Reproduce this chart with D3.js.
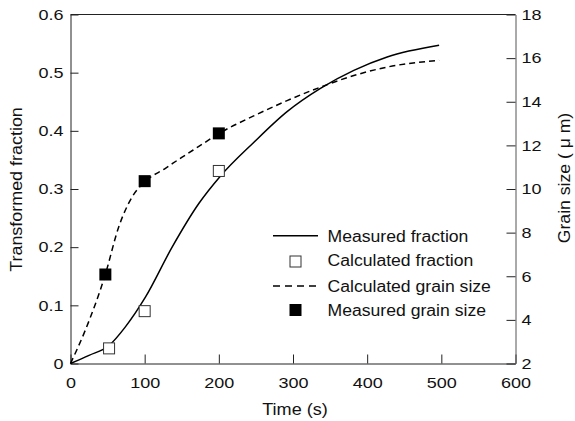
<!DOCTYPE html>
<html>
<head>
<meta charset="utf-8">
<script src="https://d3js.org/d3.v7.min.js"></script>
<style>
  body { margin: 0; background: #fff; }
  svg text { font-family: "Liberation Sans", Arial, sans-serif; fill: #111; }
</style>
</head>
<body>
<div id="chart"></div>
<script>
var w = 575,
    h = 421;

// measured transformed fraction (solid line)
var timeMeasFrac = [0, 25, 52, 74, 101, 137, 173, 202, 247, 292, 337, 382, 427, 497];
var measFrac = [0, 0.014, 0.031, 0.063, 0.114, 0.2, 0.275, 0.322, 0.38, 0.433, 0.473, 0.504, 0.527, 0.547];

// calculated grain size (dashed line, right axis)
var timeCalcGrain = [0, 20, 47, 65, 83, 101, 128, 150, 173, 202, 247, 292, 337, 382, 427, 497];
var calcGrain = [2, 3.53, 6.09, 8.26, 9.63, 10.35, 10.95, 11.45, 11.95, 12.58, 13.35, 14.05, 14.67, 15.2, 15.59, 15.9];

// calculated fraction (open squares)
var timeCalcFrac = [52, 100, 200];
var calcFrac = [0.026, 0.09, 0.331];

// measured grain size (filled squares, right axis)
var timeMeasGrain = [47, 100, 200];
var measGrain = [6.08, 10.36, 12.55];

var xTicks = [0, 100, 200, 300, 400, 500, 600];
var yLeftTicks = [0, 0.1, 0.2, 0.3, 0.4, 0.5, 0.6];
var yRightTicks = [2, 4, 6, 8, 10, 12, 14, 16, 18];

var legendLabels = ['Measured fraction', 'Calculated fraction', 'Calculated grain size', 'Measured grain size'];

var pLeft = 70.5, pRight = 515.5, pTop = 14.5, pBottom = 363.5;

var x = d3.scaleLinear().domain([0, 600]).range([pLeft, pRight]);
var yL = d3.scaleLinear().domain([0, 0.6]).range([pBottom, pTop]);
var yR = d3.scaleLinear().domain([2, 18]).range([pBottom, pTop]);

var svg = d3.select('#chart').append('svg').attr('width', w).attr('height', h);

// glyphs in the reference are a bit wider than Arial
var stretch = function (sel, k) {
  sel.each(function () {
    var len = this.getComputedTextLength();
    d3.select(this).attr('textLength', len * k).attr('lengthAdjust', 'spacingAndGlyphs');
  });
};

var styleAxis = function (g) {
  g.select('.domain').attr('stroke', '#222');
  g.selectAll('.tick line').attr('stroke', '#222');
  g.selectAll('.tick text').attr('font-size', 15).attr('fill', '#111')
    .attr('font-family', '"Liberation Sans", Arial, sans-serif');
};

var gx = svg.append('g').attr('transform', 'translate(0,' + pBottom + ')')
  .call(d3.axisBottom(x).tickValues(xTicks).tickSizeInner(-9).tickSizeOuter(0).tickPadding(14))
  .call(styleAxis);

var gl = svg.append('g').attr('transform', 'translate(' + pLeft + ',0)')
  .call(d3.axisLeft(yL).tickValues(yLeftTicks).tickSizeInner(-8).tickSizeOuter(0).tickPadding(7)
    .tickFormat(function (d) { return d === 0 ? '0' : d3.format('.1f')(d); }))
  .call(styleAxis);

var gr = svg.append('g').attr('transform', 'translate(' + pRight + ',0)')
  .call(d3.axisRight(yR).tickValues(yRightTicks).tickSizeInner(-9).tickSizeOuter(0).tickPadding(6))
  .call(styleAxis);
gr.select('.domain').attr('stroke', '#555');

svg.selectAll('.tick text').call(stretch, 1.2);

// top frame
svg.append('line')
  .attr('x1', pLeft).attr('x2', pRight).attr('y1', pTop).attr('y2', pTop)
  .attr('stroke', '#222');

// axis titles
svg.append('text')
  .attr('x', 295).attr('y', 414.5)
  .attr('text-anchor', 'middle').attr('font-size', 16)
  .text('Time (s)').call(stretch, 1.13);

svg.append('g').attr('transform', 'translate(22,189.5) rotate(-90)')
  .append('text')
  .attr('text-anchor', 'middle').attr('font-size', 16)
  .text('Transformed fraction').call(stretch, 1.12);

svg.append('g').attr('transform', 'translate(570,178) rotate(-90)')
  .append('text')
  .attr('text-anchor', 'middle').attr('font-size', 16)
  .text('Grain size ( \u03bc m)').call(stretch, 1.1);

// curves
var fracLine = d3.line()
  .x(function (d, i) { return x(timeMeasFrac[i]); })
  .y(function (d) { return yL(d); })
  .curve(d3.curveMonotoneX);

var grainLine = d3.line()
  .x(function (d, i) { return x(timeCalcGrain[i]); })
  .y(function (d) { return yR(d); })
  .curve(d3.curveMonotoneX);

svg.append('path')
  .datum(measFrac)
  .attr('d', fracLine)
  .attr('fill', 'none')
  .attr('stroke', '#000')
  .attr('stroke-width', 1.5);

svg.append('path')
  .datum(calcGrain)
  .attr('d', grainLine)
  .attr('fill', 'none')
  .attr('stroke', '#000')
  .attr('stroke-width', 1.5)
  .attr('stroke-dasharray', '6,4');

// markers
var sq = 11;

svg.selectAll('rect.calc')
  .data(calcFrac)
  .enter()
  .append('rect')
  .attr('class', 'calc')
  .attr('x', function (d, i) { return x(timeCalcFrac[i]) - sq / 2; })
  .attr('y', function (d) { return yL(d) - sq / 2; })
  .attr('width', sq).attr('height', sq)
  .attr('fill', '#fff').attr('stroke', '#333').attr('stroke-width', 1);

svg.selectAll('rect.meas')
  .data(measGrain)
  .enter()
  .append('rect')
  .attr('class', 'meas')
  .attr('x', function (d, i) { return x(timeMeasGrain[i]) - 6; })
  .attr('y', function (d) { return yR(d) - 6; })
  .attr('width', 12).attr('height', 12)
  .attr('fill', '#000');

// legend
var legX = 273, legW = 45, legTextX = 327.5;
var legBase = [241.7, 266, 291.5, 316];
var leg = svg.append('g');

leg.append('line')
  .attr('x1', legX).attr('x2', legX + legW).attr('y1', legBase[0] - 6).attr('y2', legBase[0] - 6)
  .attr('stroke', '#000').attr('stroke-width', 1.5);

leg.append('rect')
  .attr('x', legX + legW / 2 - sq / 2).attr('y', legBase[1] - 4.5 - sq / 2)
  .attr('width', sq).attr('height', sq)
  .attr('fill', '#fff').attr('stroke', '#333');

leg.append('line')
  .attr('x1', legX).attr('x2', legX + legW).attr('y1', legBase[2] - 5.5).attr('y2', legBase[2] - 5.5)
  .attr('stroke', '#000').attr('stroke-width', 1.5).attr('stroke-dasharray', '7,5');

leg.append('rect')
  .attr('x', legX + legW / 2 - 6).attr('y', legBase[3] - 6 - 6)
  .attr('width', 12).attr('height', 12)
  .attr('fill', '#000');

leg.selectAll('text')
  .data(legendLabels)
  .enter()
  .append('text')
  .attr('x', legTextX)
  .attr('y', function (d, i) { return legBase[i]; })
  .attr('font-size', 16)
  .text(function (d) { return d; })
  .call(stretch, 1.1);
</script>
</body>
</html>
